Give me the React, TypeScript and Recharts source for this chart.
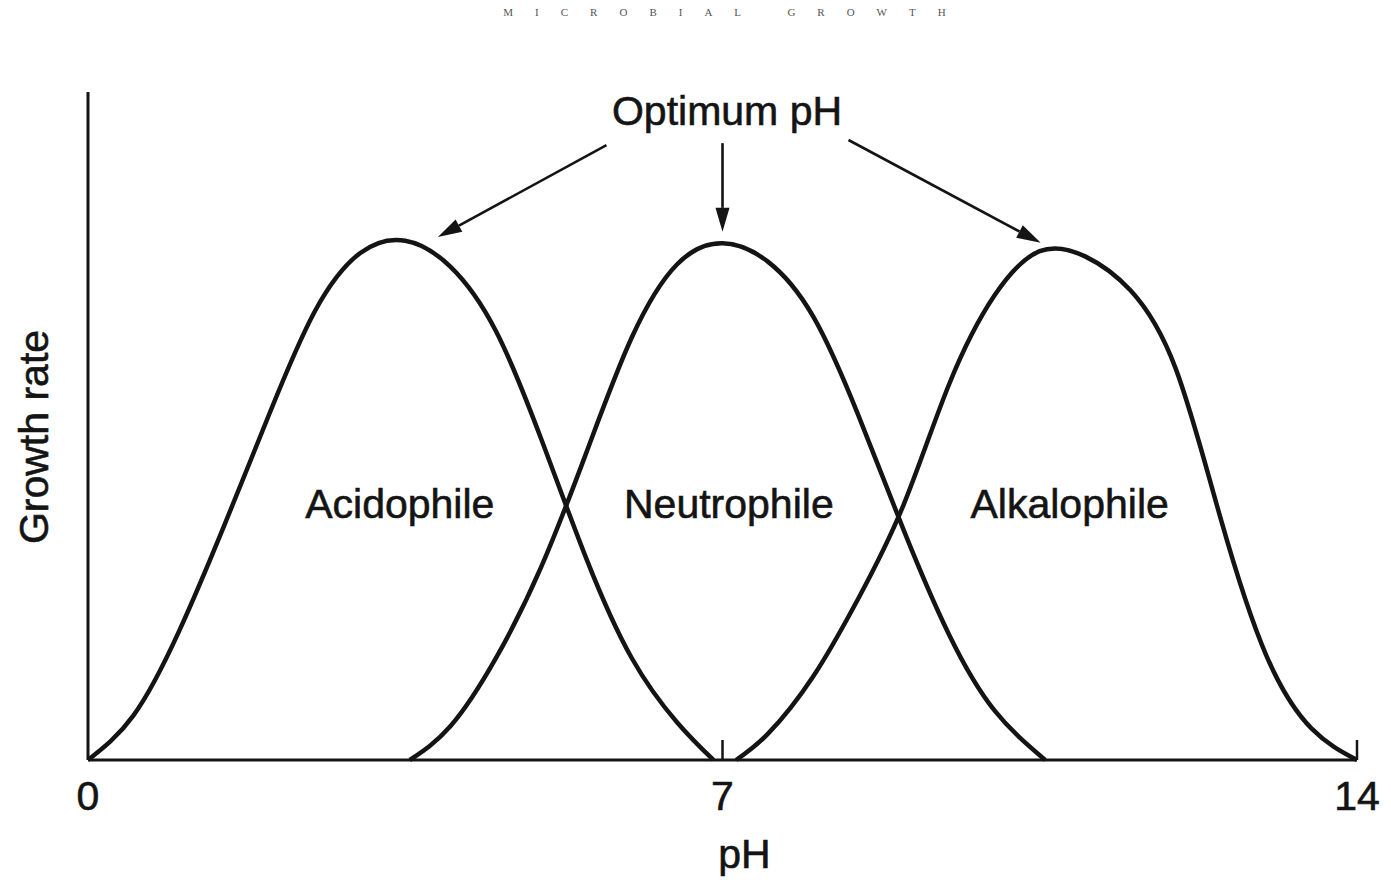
import { LineChart, Line, XAxis, YAxis, ReferenceLine, ReferenceDot } from "recharts";

// growth curves (pH, relative growth rate)
const acidPH = [0, 0.5, 1, 1.5, 2, 2.5, 3, 3.5, 4, 4.5, 5, 5.5, 6, 6.5, 6.9];
const acidRate = [0, 8.5, 24.5, 44.8, 66.3, 85.9, 97.1, 99.5, 94.5, 82.2, 61.5, 38.5, 19.5, 7.2, 0];

const neutroPH = [3.55, 4, 4.5, 5, 5.5, 6, 6.5, 7, 7.5, 8, 8.5, 9, 9.5, 10, 10.56];
const neutroRate = [0, 6.5, 19.5, 37, 59, 81, 95, 99, 95.5, 85, 66, 44, 24, 9.5, 0];

const alkPH = [7.15, 7.5, 8, 8.5, 9, 9.5, 10, 10.5, 11, 11.5, 12, 12.5, 13, 13.5, 14];
const alkRate = [0, 5, 16, 31, 49, 72, 89, 97.5, 96.5, 90, 75, 46, 20, 6, 0];

const phTicks = [0, 7, 14];

const curveLabels = ["Acidophile", "Neutrophile", "Alkalophile"];
const curveLabelPH = [3.44, 7.07, 10.83];
const curveLabelRate = 49.2;

// "Optimum pH" callout: text anchor and arrows (start -> tip) in data units
const optimumText = "Optimum pH";
const optimumAt = { x: 7.05, y: 124.4 };
const arrowFrom = [
  { x: 5.72, y: 117.8 },
  { x: 7.0, y: 118.2 },
  { x: 8.39, y: 118.8 },
];
const arrowTo = [
  { x: 3.86, y: 100.2 },
  { x: 7.0, y: 101.2 },
  { x: 10.51, y: 99.1 },
];

const toRows = (xs: number[], ys: number[]) => xs.map((ph, i) => ({ ph, rate: ys[i] }));
const acidData = toRows(acidPH, acidRate);
const neutroData = toRows(neutroPH, neutroRate);
const alkData = toRows(alkPH, alkRate);

const FONT = '"Liberation Sans", Arial, Helvetica, sans-serif';
const INK = "#141414";
const textInk = { fill: INK, stroke: INK, strokeWidth: 0.6 };

function PhTick(props: any) {
  const { x, y, payload } = props;
  return (
    <g>
      {payload.value !== 0 && <line x1={x} x2={x} y1={y - 20} y2={y} stroke={INK} strokeWidth={2.5} />}
      <text x={x} y={y + 50} textAnchor="middle" fontSize={41} fontFamily={FONT} {...textInk}>
        {payload.value}
      </text>
    </g>
  );
}

function Arrow(props: any) {
  const { x1, y1, x2, y2 } = props;
  const dx = x2 - x1;
  const dy = y2 - y1;
  const len = Math.sqrt(dx * dx + dy * dy) || 1;
  const ux = dx / len;
  const uy = dy / len;
  const head = 24;
  const half = 7;
  const bx = x2 - ux * head;
  const by = y2 - uy * head;
  return (
    <g>
      <line x1={x1} y1={y1} x2={bx} y2={by} stroke={INK} strokeWidth={2.6} />
      <polygon
        points={`${x2},${y2} ${bx - uy * half},${by + ux * half} ${bx + uy * half},${by - ux * half}`}
        fill={INK}
      />
    </g>
  );
}

export default function App() {
  return (
    <div style={{ position: "absolute", top: 0, left: 0, width: 1391, height: 883, background: "#fff" }}>
      {/* page title, only a thin strip of it shows in the scan */}
      <div
        style={{
          position: "absolute",
          top: 6,
          left: 0,
          width: 1391,
          textAlign: "center",
          fontFamily: '"Liberation Serif", "DejaVu Serif", serif',
          fontSize: 11,
          letterSpacing: 22,
          lineHeight: "12px",
          color: "#555",
          paddingLeft: 40,
        }}
      >
        MICROBIAL GROWTH
      </div>
      <LineChart width={1391} height={883} margin={{ top: 92, right: 34, bottom: 63, left: 28 }}>
        <XAxis
          type="number"
          dataKey="ph"
          domain={[0, 14]}
          ticks={phTicks}
          interval={0}
          height={60}
          tickSize={0}
          tickMargin={0}
          tickLine={false}
          tick={<PhTick />}
          axisLine={{ stroke: INK, strokeWidth: 3 }}
          label={{
            content: (p: any) => (
              <text
                x={p.viewBox.x + p.viewBox.width / 2 + 22}
                y={p.viewBox.y + 108}
                textAnchor="middle"
                fontSize={41}
                fontFamily={FONT}
                {...textInk}
              >
                pH
              </text>
            ),
          }}
        />
        <YAxis
          type="number"
          domain={[0, 128]}
          width={60}
          tick={false}
          tickLine={false}
          axisLine={{ stroke: INK, strokeWidth: 3 }}
          label={{
            content: (p: any) => (
              <text
                transform={`translate(${p.viewBox.x + 20},${p.viewBox.y + p.viewBox.height / 2 + 11}) rotate(-90)`}
                textAnchor="middle"
                fontSize={41}
                fontFamily={FONT}
                {...textInk}
              >
                Growth rate
              </text>
            ),
          }}
        />
        <Line data={acidData} dataKey="rate" type="natural" dot={false} stroke={INK} strokeWidth={4.5} isAnimationActive={false} />
        <Line data={neutroData} dataKey="rate" type="natural" dot={false} stroke={INK} strokeWidth={4.5} isAnimationActive={false} />
        <Line data={alkData} dataKey="rate" type="natural" dot={false} stroke={INK} strokeWidth={4.5} isAnimationActive={false} />
        {curveLabels.map((name, i) => (
          <ReferenceDot
            key={name}
            x={curveLabelPH[i]}
            y={curveLabelRate}
            r={0}
            fill="none"
            stroke="none"
            label={{ value: name, position: "center", fontSize: 41, fontFamily: FONT, ...textInk }}
          />
        ))}
        <ReferenceDot
          x={optimumAt.x}
          y={optimumAt.y}
          r={0}
          fill="none"
          stroke="none"
          ifOverflow="visible"
          label={{ value: optimumText, position: "center", fontSize: 41, fontFamily: FONT, ...textInk }}
        />
        {arrowFrom.map((from, i) => (
          <ReferenceLine
            key={i}
            segment={[from, arrowTo[i]]}
            ifOverflow="visible"
            shape={<Arrow />}
          />
        ))}
      </LineChart>
    </div>
  );
}
